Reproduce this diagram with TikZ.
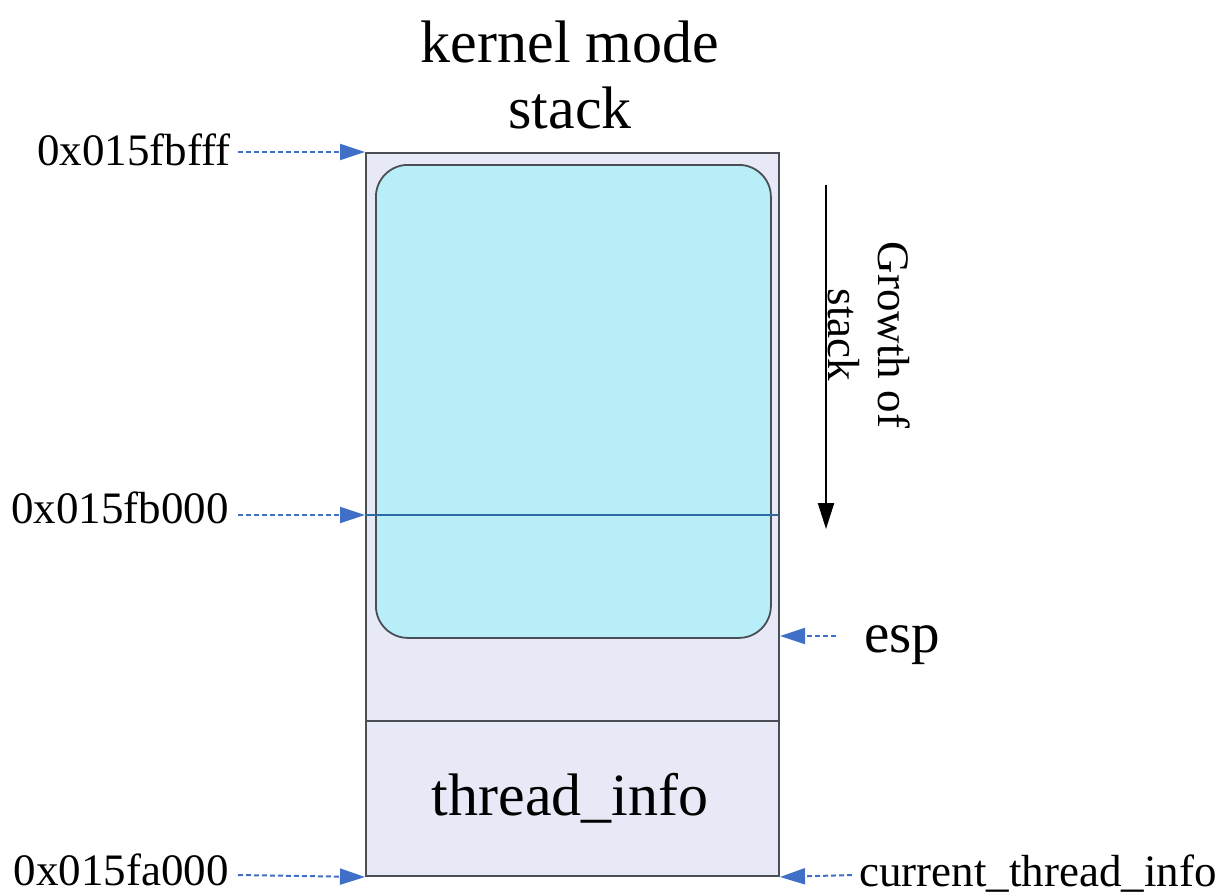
\documentclass[tikz,border=0pt]{standalone}
\usepackage{fontspec}
\setmainfont{Liberation Serif}
\usetikzlibrary{arrows.meta}
\definecolor{regionfill}{HTML}{E7EAF6}
\definecolor{stackfill}{HTML}{B8EEF7}
\definecolor{edgegray}{HTML}{4A4F55}
\definecolor{ptrblue}{HTML}{3F6FC6}
\definecolor{markline}{HTML}{2E6AA8}
\tikzset{
  region/.style={draw=edgegray, line width=2pt, fill=regionfill, inner sep=0pt, anchor=north west},
  used/.style={draw=edgegray, line width=1.8pt, fill=stackfill, rounded corners=32pt, inner sep=0pt, anchor=north west},
  addr/.style={inner sep=0pt, anchor=base east, font=\fontsize{45}{50}\selectfont},
  bigtext/.style={inner sep=0pt, font=\fontsize{60}{66}\selectfont},
  ptr/.style={draw=ptrblue, line width=2pt, dash pattern=on 5pt off 3pt,
    -{Triangle[length=25pt, width=16pt, fill=ptrblue]}},
  growth/.style={draw=black, line width=2.2pt, -{Triangle[length=26pt, width=16pt]}}
}
\begin{document}
\begin{tikzpicture}[x=1pt, y=-1pt]
\useasboundingbox (0,0) rectangle (1222,894);

% memory regions
\node[region, minimum width=413pt, minimum height=568pt] (stackreg) at (365,152) {};
\node[region, minimum width=413pt, minimum height=155pt] (tinfo) at (365,720) {};
\node[bigtext, anchor=base] (tinfotext) at (570,815) {thread\_info};
\node[used, minimum width=395pt, minimum height=473pt] (used) at (375,164) {};

% page boundary inside the stack
\coordinate (pageL) at (365,515);
\coordinate (pageR) at (778,515);
\draw[markline, line width=1.4pt] (pageL) -- (pageR);

% title
\node[bigtext, anchor=base] (title1) at (570,62) {kernel mode};
\node[bigtext, anchor=base] (title2) at (570,128) {stack};

% addresses
\node[addr] (a1) at (231,165) {0x015fbfff};
\node[addr] (a2) at (229,523) {0x015fb000};
\node[addr] (a3) at (229,885) {0x015fa000};
\coordinate (a1end) at (238,152);
\coordinate (a2end) at (238,515);
\coordinate (a3end) at (238,875);
\draw[ptr] (a1end) -- (stackreg.north west);
\draw[ptr] (a2end) -- (pageL);
\draw[ptr] (a3end) -- (tinfo.south west);

% esp and current_thread_info
\node[inner sep=0pt, anchor=base west, font=\fontsize{57}{62}\selectfont] (esp) at (864,652) {esp};
\coordinate (espfrom) at (836,636);
\coordinate (espto) at (780,636);
\draw[ptr] (espfrom) -- (espto);
\node[inner sep=0pt, anchor=base west, font=\fontsize{45}{50}\selectfont] (cti) at (859,886) {current\_thread\_info};
\coordinate (ctifrom) at (852,875);
\draw[ptr] (ctifrom) -- (tinfo.south east);

% direction of growth
\coordinate (gtop) at (826,185);
\coordinate (gbot) at (826,529);
\draw[growth] (gtop) -- (gbot);
\node[inner sep=0pt, rotate=-90, align=center, font=\fontsize{45}{50}\selectfont] (glabel) at (869,335) {Growth of\\stack};
\end{tikzpicture}
\end{document}
